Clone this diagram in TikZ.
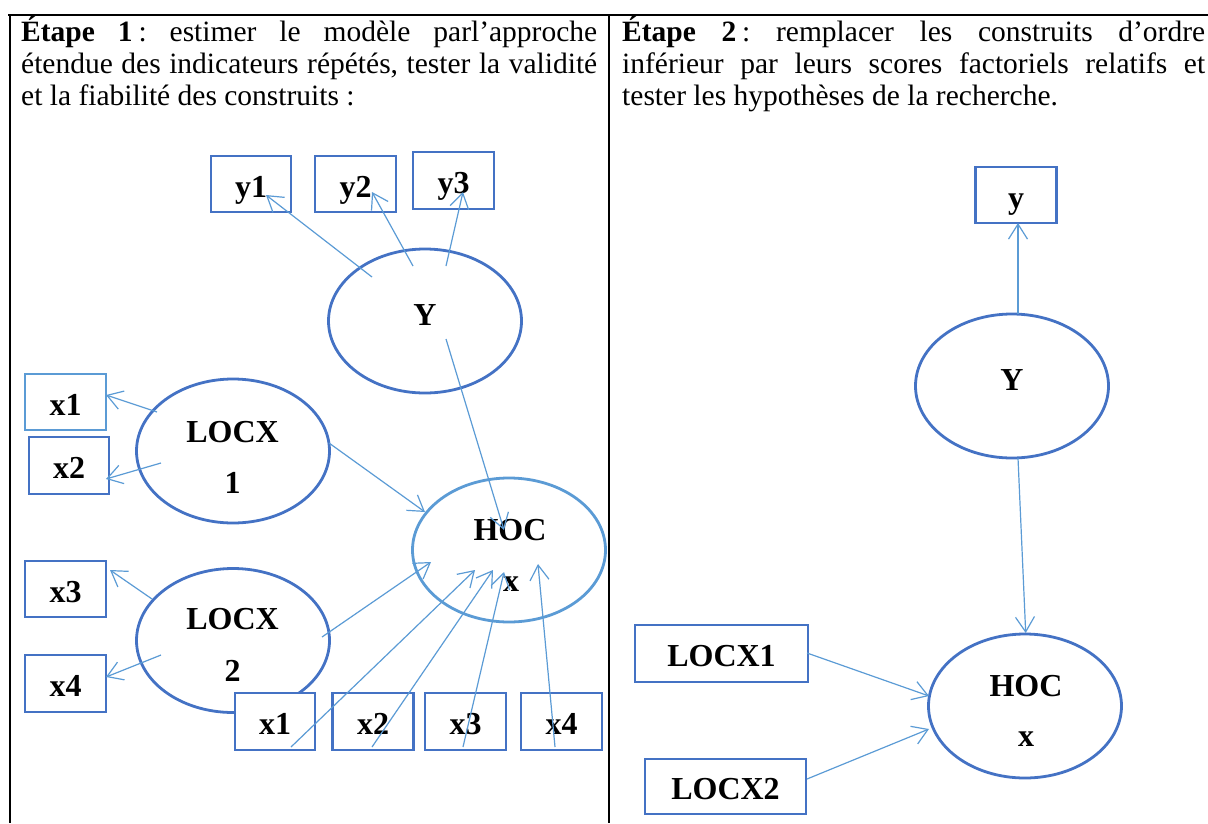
\documentclass[tikz,border=0pt]{standalone}
\usepackage{fontspec}
\setmainfont{Liberation Serif}
\usetikzlibrary{arrows.meta,shapes.geometric}
\definecolor{dblue}{RGB}{68,114,196}
\definecolor{lblue}{RGB}{91,155,213}
\tikzset{
  hdr/.style={inner sep=0, anchor=base west, font=\fontsize{29.5}{32}\selectfont\frenchspacing},
  box/.style={draw=dblue, fill=white, line width=2.8, rectangle, inner sep=0,
    font=\bfseries\fontsize{32}{36}\selectfont, text height=26, text depth=0},
  ell/.style={draw=dblue, fill=white, line width=2.8, ellipse, inner sep=0,
    minimum width=193, minimum height=144},
  lbl/.style={inner sep=0, anchor=base, font=\bfseries\fontsize{32}{36}\selectfont},
  arr/.style={draw=lblue, line width=1.2, -{Straight Barb[length=15pt,width=19pt]}},
  frame/.style={draw=black, line width=2}
}
\begin{document}
\begin{tikzpicture}[x=1pt,y=-1pt]
\useasboundingbox (0,0) rectangle (1208,823);
% table frame
\draw[frame] (8,15) -- (1208,15);
\draw[frame] (10,15) -- (10,823);
\draw[frame] (609,15) -- (609,823);

% headers
\node[hdr] (h1a) at (21,41) {\makebox[576pt][s]{\textbf{Étape 1}\hspace{0.2em}: estimer le modèle parl’approche}};
\node[hdr] (h1b) at (21,73) {\makebox[576pt][s]{étendue des indicateurs répétés, tester la validité}};
\node[hdr] (h1c) at (21,105) {et la fiabilité des construits :};
\node[hdr] (h2a) at (622,41) {\makebox[583pt][s]{\textbf{Étape 2}\hspace{0.2em}: remplacer les construits d’ordre}};
\node[hdr] (h2b) at (622,73) {\makebox[583pt][s]{inférieur par leurs scores factoriels relatifs et}};
\node[hdr] (h2c) at (622,105) {tester les hypothèses de la recherche.};

% ---- left panel ----
\node[ell] (Yl) at (425,321) {};
\node[ell] (L1) at (233,451) {};
\node[ell] (L2) at (233,640.5) {};
\node[ell, draw=lblue] (Hl) at (509,550) {};

\node[lbl] (tYl) at (425,325) {Y};
\node[lbl] (tL1a) at (232.5,442) {LOCX};
\node[lbl] (tL1b) at (232.5,493) {1};
\node[lbl] (tL2a) at (232.5,629) {LOCX};
\node[lbl] (tL2b) at (232.5,681) {2};
\node[lbl] (tHla) at (510,540) {HOC};
\node[lbl] (tHlb) at (511,591) {x};

\node[box, minimum width=80, minimum height=56] (y1) at (251,184) {y1};
\node[box, minimum width=81, minimum height=56] (y2) at (355.5,184) {y2};
\node[box, minimum width=81, minimum height=57] (y3) at (453.5,180.5) {y3};

\node[box, draw=lblue, minimum width=81, minimum height=56] (x1) at (65.5,402) {x1};
\node[box, minimum width=80, minimum height=57] (x2) at (69,465.5) {x2};
\node[box, minimum width=81, minimum height=56] (x3) at (65.5,589) {x3};
\node[box, minimum width=81, minimum height=57] (x4) at (65.5,683.5) {x4};

\node[box, minimum width=80, minimum height=57] (bx1) at (275,721.5) {x1};
\node[box, minimum width=81, minimum height=57] (bx2) at (373,721.5) {x2};
\node[box, minimum width=81, minimum height=57] (bx3) at (465.5,721.5) {x3};
\node[box, minimum width=81, minimum height=57] (bx4) at (561.5,721.5) {x4};

\draw[arr] ([shift={(-53,-44)}]Yl.center) -- ([shift={(15,11)}]y1.center);
\draw[arr] ([shift={(-12,-55)}]Yl.center) -- ([shift={(16.5,8)}]y2.center);
\draw[arr] ([shift={(21,-55)}]Yl.center) -- ([shift={(9.5,11.5)}]y3.center);
\draw[arr] ([shift={(21,18)}]Yl.center) -- ([shift={(-5,-20)}]Hl.center);

\draw[arr] ([shift={(-76,-39)}]L1.center) -- ([shift={(40.5,-7)}]x1.center);
\draw[arr] ([shift={(-72,12)}]L1.center) -- ([shift={(37,13.5)}]x2.center);
\draw[arr] ([shift={(96,-8)}]L1.center) -- ([shift={(-84,-38)}]Hl.center);

\draw[arr] ([shift={(-81,-41.5)}]L2.center) -- ([shift={(44.5,-19)}]x3.center);
\draw[arr] ([shift={(-72,14.5)}]L2.center) -- ([shift={(40.5,-6.5)}]x4.center);
\draw[arr] ([shift={(89,-3.5)}]L2.center) -- ([shift={(-78,12)}]Hl.center);

\draw[arr] ([shift={(16,25.5)}]bx1.center) -- ([shift={(-34,20)}]Hl.center);
\draw[arr] ([shift={(-1,25.5)}]bx2.center) -- ([shift={(-16,20)}]Hl.center);
\draw[arr] ([shift={(-2.5,25.5)}]bx3.center) -- ([shift={(-5,22)}]Hl.center);
\draw[arr] ([shift={(-6.5,25.5)}]bx4.center) -- ([shift={(29,14)}]Hl.center);

% ---- right panel ----
\node[ell] (Yr) at (1012,386) {};
\node[ell] (Hr) at (1025,706) {};
\node[lbl] (tYr) at (1012,390) {Y};
\node[lbl] (tHra) at (1026,696) {HOC};
\node[lbl] (tHrb) at (1026,746) {x};

\node[box, minimum width=81, minimum height=56] (yr) at (1016,195) {y};
\node[box, minimum width=173, minimum height=57] (Lr1) at (721.5,653.5) {LOCX1};
\node[box, minimum width=161, minimum height=55] (Lr2) at (725.5,786.5) {LOCX2};

\draw[arr] ([shift={(6,-72)}]Yr.center) -- ([shift={(2,28)}]yr.center);
\draw[arr] ([shift={(6,72)}]Yr.center) -- ([shift={(0.7,-73)}]Hr.center);
\draw[arr] ([shift={(85.5,-0.5)}]Lr1.center) -- ([shift={(-96,-10)}]Hr.center);
\draw[arr] ([shift={(81.5,-7.5)}]Lr2.center) -- ([shift={(-96,23)}]Hr.center);
\end{tikzpicture}
\end{document}
